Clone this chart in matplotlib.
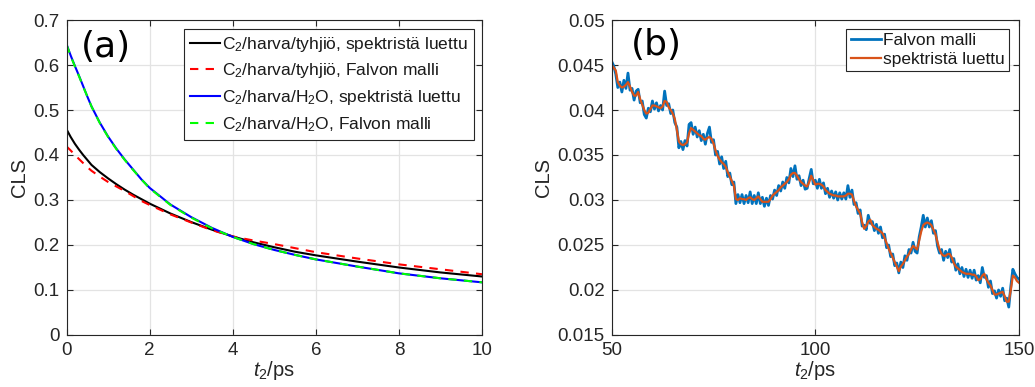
import numpy as np
import matplotlib
matplotlib.use("Agg")
import matplotlib.pyplot as plt
from matplotlib.ticker import FuncFormatter

# ---------------- data: panel (a) ----------------
t_a = [0, 0.1, 0.2, 0.3, 0.4, 0.5, 0.6, 0.8, 1.0, 1.2, 1.4, 1.6, 1.8, 2.0,
       2.5, 3.0, 3.5, 4.0, 4.5, 5.0, 5.5, 6.0, 7.0, 8.0, 9.0, 10.0]
vac_spectrum = [0.457, 0.440, 0.425, 0.412, 0.400, 0.389, 0.378, 0.362, 0.348,
                0.335, 0.323, 0.312, 0.302, 0.292, 0.270, 0.251, 0.234, 0.219,
                0.206, 0.195, 0.185, 0.177, 0.163, 0.150, 0.139, 0.130]
vac_falvo = [0.419, 0.410, 0.400, 0.391, 0.382, 0.373, 0.365, 0.352, 0.340,
             0.330, 0.320, 0.309, 0.298, 0.289, 0.268, 0.250, 0.233, 0.219,
             0.210, 0.202, 0.193, 0.184, 0.170, 0.157, 0.146, 0.135]
h2o_spectrum = [0.646, 0.621, 0.598, 0.576, 0.553, 0.530, 0.508, 0.472, 0.441,
                0.414, 0.390, 0.368, 0.346, 0.327, 0.290, 0.262, 0.238, 0.218,
                0.202, 0.189, 0.178, 0.168, 0.152, 0.137, 0.126, 0.117]
h2o_falvo = [0.645, 0.620, 0.597, 0.575, 0.552, 0.530, 0.508, 0.471, 0.440,
             0.413, 0.389, 0.367, 0.346, 0.326, 0.289, 0.261, 0.237, 0.218,
             0.202, 0.189, 0.178, 0.168, 0.152, 0.137, 0.126, 0.117]

labels_a = [r"C$_2$/harva/tyhjiö, spektristä luettu",
            r"C$_2$/harva/tyhjiö, Falvon malli",
            r"C$_2$/harva/H$_2$O, spektristä luettu",
            r"C$_2$/harva/H$_2$O, Falvon malli"]

# ---------------- data: panel (b) ----------------
t_b_start, t_b_step = 50.0, 0.5
falvo_b = [
    0.0454, 0.0449, 0.0440, 0.0425, 0.0431, 0.0420, 0.0433, 0.0424, 0.0441, 0.0422,
    0.0424, 0.0411, 0.0421, 0.0423, 0.0408, 0.0410, 0.0395, 0.0391, 0.0402, 0.0398,
    0.0410, 0.0401, 0.0408, 0.0399, 0.0405, 0.0400, 0.0421, 0.0405, 0.0407, 0.0396,
    0.0400, 0.0386, 0.0381, 0.0358, 0.0365, 0.0356, 0.0366, 0.0360, 0.0384, 0.0386,
    0.0373, 0.0381, 0.0370, 0.0377, 0.0366, 0.0373, 0.0362, 0.0374, 0.0381, 0.0364,
    0.0367, 0.0350, 0.0354, 0.0340, 0.0348, 0.0335, 0.0343, 0.0326, 0.0330, 0.0317,
    0.0320, 0.0296, 0.0306, 0.0297, 0.0306, 0.0296, 0.0305, 0.0297, 0.0309, 0.0296,
    0.0305, 0.0296, 0.0308, 0.0296, 0.0303, 0.0293, 0.0302, 0.0294, 0.0305, 0.0301,
    0.0311, 0.0305, 0.0316, 0.0310, 0.0320, 0.0313, 0.0325, 0.0319, 0.0335, 0.0326,
    0.0338, 0.0323, 0.0327, 0.0316, 0.0322, 0.0312, 0.0313, 0.0324, 0.0334, 0.0318,
    0.0322, 0.0313, 0.0323, 0.0313, 0.0319, 0.0307, 0.0313, 0.0303, 0.0310, 0.0302,
    0.0309, 0.0300, 0.0308, 0.0301, 0.0308, 0.0301, 0.0316, 0.0303, 0.0311, 0.0295,
    0.0297, 0.0285, 0.0289, 0.0271, 0.0272, 0.0267, 0.0283, 0.0274, 0.0276, 0.0266,
    0.0273, 0.0263, 0.0270, 0.0258, 0.0262, 0.0247, 0.0250, 0.0237, 0.0240, 0.0227,
    0.0230, 0.0219, 0.0231, 0.0225, 0.0238, 0.0233, 0.0245, 0.0241, 0.0253, 0.0243,
    0.0241, 0.0259, 0.0270, 0.0283, 0.0270, 0.0280, 0.0270, 0.0277, 0.0263, 0.0266,
    0.0249, 0.0241, 0.0245, 0.0233, 0.0243, 0.0236, 0.0245, 0.0231, 0.0235, 0.0222,
    0.0229, 0.0218, 0.0225, 0.0215, 0.0223, 0.0214, 0.0222, 0.0213, 0.0222, 0.0211,
    0.0216, 0.0208, 0.0225, 0.0214, 0.0216, 0.0203, 0.0210, 0.0196, 0.0199, 0.0191,
    0.0200, 0.0193, 0.0202, 0.0188, 0.0191, 0.0181, 0.0204, 0.0223, 0.0218, 0.0214,
    0.0212]
spectrum_b = [
    0.0450, 0.0447, 0.0444, 0.0431, 0.0427, 0.0425, 0.0426, 0.0428, 0.0431, 0.0426,
    0.0420, 0.0416, 0.0416, 0.0420, 0.0412, 0.0406, 0.0400, 0.0396, 0.0397, 0.0401,
    0.0405, 0.0405, 0.0404, 0.0403, 0.0402, 0.0404, 0.0410, 0.0409, 0.0403, 0.0400,
    0.0396, 0.0390, 0.0378, 0.0365, 0.0362, 0.0361, 0.0362, 0.0364, 0.0374, 0.0380,
    0.0378, 0.0376, 0.0374, 0.0372, 0.0371, 0.0368, 0.0367, 0.0369, 0.0370, 0.0368,
    0.0363, 0.0355, 0.0349, 0.0345, 0.0342, 0.0340, 0.0337, 0.0331, 0.0326, 0.0321,
    0.0316, 0.0301, 0.0300, 0.0302, 0.0301, 0.0301, 0.0300, 0.0302, 0.0303, 0.0301,
    0.0300, 0.0302, 0.0304, 0.0301, 0.0298, 0.0298, 0.0298, 0.0298, 0.0301, 0.0305,
    0.0307, 0.0309, 0.0311, 0.0314, 0.0316, 0.0318, 0.0320, 0.0323, 0.0328, 0.0330,
    0.0330, 0.0327, 0.0323, 0.0320, 0.0318, 0.0316, 0.0315, 0.0320, 0.0327, 0.0322,
    0.0317, 0.0318, 0.0318, 0.0317, 0.0315, 0.0311, 0.0309, 0.0307, 0.0306, 0.0305,
    0.0305, 0.0304, 0.0304, 0.0304, 0.0304, 0.0305, 0.0307, 0.0307, 0.0306, 0.0299,
    0.0293, 0.0289, 0.0285, 0.0275, 0.0268, 0.0271, 0.0276, 0.0278, 0.0272, 0.0270,
    0.0268, 0.0267, 0.0265, 0.0263, 0.0258, 0.0252, 0.0246, 0.0241, 0.0236, 0.0231,
    0.0226, 0.0221, 0.0226, 0.0229, 0.0233, 0.0237, 0.0240, 0.0245, 0.0249, 0.0247,
    0.0245, 0.0255, 0.0265, 0.0272, 0.0274, 0.0275, 0.0274, 0.0272, 0.0267, 0.0262,
    0.0253, 0.0245, 0.0240, 0.0238, 0.0238, 0.0240, 0.0240, 0.0236, 0.0230, 0.0226,
    0.0224, 0.0222, 0.0220, 0.0219, 0.0218, 0.0218, 0.0218, 0.0217, 0.0217, 0.0215,
    0.0211, 0.0212, 0.0216, 0.0218, 0.0212, 0.0208, 0.0205, 0.0200, 0.0195, 0.0195,
    0.0196, 0.0197, 0.0198, 0.0193, 0.0187, 0.0187, 0.0200, 0.0216, 0.0214, 0.0210,
    0.0208]
labels_b = ["Falvon malli", "spektristä luettu"]

# ---------------- style ----------------
plt.rcParams["font.family"] = ["Liberation Sans", "DejaVu Sans"]
plt.rcParams["mathtext.fontset"] = "custom"
plt.rcParams["mathtext.rm"] = "Liberation Sans"
plt.rcParams["mathtext.it"] = "Liberation Sans:italic"
plt.rcParams["mathtext.default"] = "regular"

AX_COLOR = "#262626"
GRID_COLOR = "#e3e3e3"
TICK_FS = 13.5
LABEL_FS = 14.5
LEGEND_FS = 12.5


def style_axes(ax):
    for s in ax.spines.values():
        s.set_color(AX_COLOR)
        s.set_linewidth(0.8)
    ax.tick_params(direction="in", length=4, width=0.8, top=True, right=True,
                   colors=AX_COLOR, labelsize=TICK_FS, pad=5)
    ax.grid(True, color=GRID_COLOR, linewidth=0.9)
    ax.set_axisbelow(True)


fig = plt.figure(figsize=(10.35, 3.87), dpi=100)

# ---------------- panel (a) ----------------
ax1 = fig.add_axes([0.0643, 0.1344, 0.4014, 0.8139])
style_axes(ax1)
ax1.plot(t_a, vac_spectrum, color="k", lw=1.5, label=labels_a[0])
ax1.plot(t_a, vac_falvo, color="#ff0000", lw=1.5, ls=(0, (4, 3.5)), label=labels_a[1])
ax1.plot(t_a, h2o_spectrum, color="#0000ff", lw=1.5, label=labels_a[2])
ax1.plot(t_a, h2o_falvo, color="#00ff00", lw=1.5, ls=(0, (4, 3.5)), label=labels_a[3])
ax1.set_xlim(0, 10)
ax1.set_ylim(0, 0.7)
ax1.set_xticks([0, 2, 4, 6, 8, 10])
ax1.set_yticks(np.arange(0, 0.71, 0.1))
ax1.yaxis.set_major_formatter(FuncFormatter(lambda v, p: f"{round(v, 3):g}"))
ax1.set_xlabel(r"$\mathit{t}_2$/ps", fontsize=LABEL_FS, color=AX_COLOR, labelpad=0)
ax1.set_ylabel("CLS", fontsize=LABEL_FS, color=AX_COLOR, labelpad=3)
leg1 = ax1.legend(loc="upper right", bbox_to_anchor=(0.98, 0.973), fontsize=LEGEND_FS,
                  frameon=True, fancybox=False, framealpha=1, edgecolor=AX_COLOR,
                  handlelength=1.75, handletextpad=0.1, borderpad=0.35,
                  labelspacing=0.45, borderaxespad=0)
leg1.get_frame().set_linewidth(0.8)
for txt in leg1.get_texts():
    txt.set_color("#1a1a1a")
ax1.text(0.034, 0.915, "(a)", transform=ax1.transAxes, fontsize=26,
         family="DejaVu Sans", ha="left", va="center", color="k")

# ---------------- panel (b) ----------------
t_b = t_b_start + t_b_step * np.arange(len(spectrum_b))
ax2 = fig.add_axes([0.5910, 0.1344, 0.3935, 0.8139])
style_axes(ax2)
ax2.plot(t_b, falvo_b, color="#0072BD", lw=2.0, label=labels_b[0])
ax2.plot(t_b, spectrum_b, color="#D95319", lw=1.6, label=labels_b[1])
ax2.set_xlim(50, 150)
ax2.set_ylim(0.015, 0.05)
ax2.set_xticks([50, 100, 150])
ax2.set_yticks(np.arange(0.015, 0.0501, 0.005))
ax2.yaxis.set_major_formatter(FuncFormatter(lambda v, p: f"{round(v, 4):g}"))
ax2.set_xlabel(r"$\mathit{t}_2$/ps", fontsize=LABEL_FS, color=AX_COLOR, labelpad=0)
ax2.set_ylabel("CLS", fontsize=LABEL_FS, color=AX_COLOR, labelpad=3)
leg2 = ax2.legend(loc="upper right", bbox_to_anchor=(0.975, 0.973), fontsize=LEGEND_FS,
                  frameon=True, fancybox=False, framealpha=1, edgecolor=AX_COLOR,
                  handlelength=1.75, handletextpad=0.1, borderpad=0.25,
                  labelspacing=0.2, borderaxespad=0)
leg2.get_frame().set_linewidth(0.8)
for txt in leg2.get_texts():
    txt.set_color("#1a1a1a")
ax2.text(0.047, 0.922, "(b)", transform=ax2.transAxes, fontsize=26,
         family="DejaVu Sans", ha="left", va="center", color="k")

fig.savefig("out.png", dpi=100)
